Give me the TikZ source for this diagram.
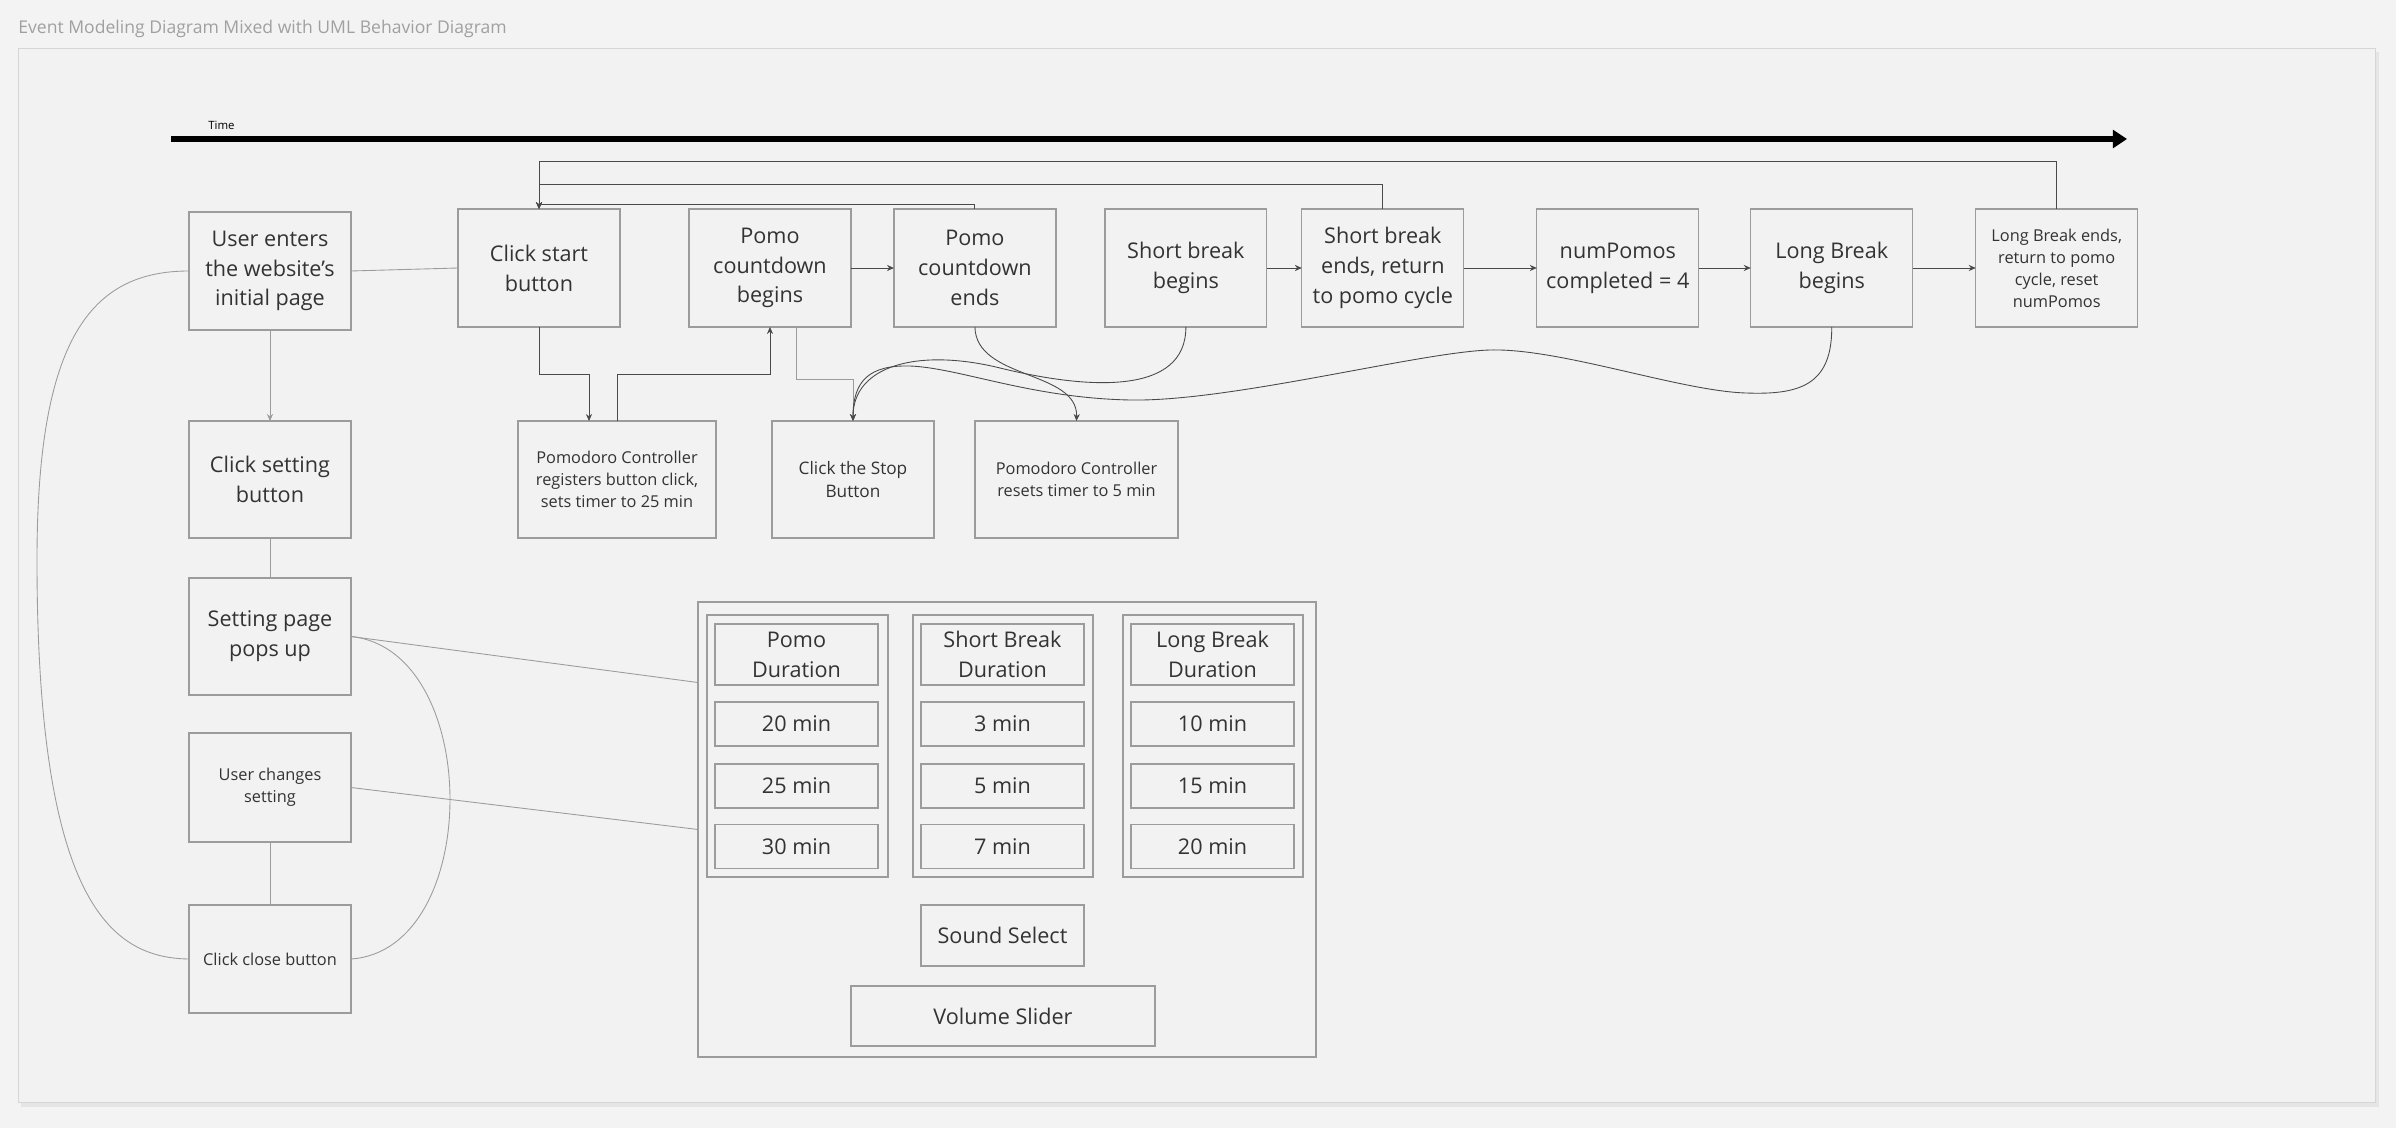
\documentclass[tikz,border=0pt]{standalone}
\usepackage{fontspec}
\setmainfont{Open Sans}
\usetikzlibrary{positioning, arrows.meta}

\definecolor{pagegray}{HTML}{F3F3F3}
\definecolor{framegray}{HTML}{F2F2F2}
\definecolor{boxgray}{HTML}{9C9C9C}
\definecolor{txtgray}{HTML}{333333}
\definecolor{linegray}{HTML}{4A4A4A}
\definecolor{titlegray}{HTML}{A0A0A0}

\tikzset{
  evt/.style={draw=boxgray, line width=0.7pt, text=txtgray, align=center,
    inner sep=1pt, outer sep=0pt, minimum width=3.24cm, minimum height=2.36cm,
    font=\fontsize{12.3}{17}\selectfont},
  smalltxt/.style={font=\fontsize{9.3}{12.5}\selectfont},
  opt/.style={evt, minimum width=3.26cm, minimum height=0.88cm},
  link/.style={draw=linegray, line width=0.5pt},
}

\begin{document}
\begin{tikzpicture}[x=0.02cm, y=-0.02cm, >={Stealth[length=4pt,width=3.5pt]}]
\useasboundingbox (0,0) rectangle (2396,1128);
\fill[pagegray] (0,0) rectangle (2396,1128);
\fill[black!10] (21,52) rectangle (2379,1107);
\filldraw[fill=framegray, draw=black!16] (18,48) rectangle (2375,1102);
\node[anchor=west, inner sep=0pt, text=titlegray,
    font=\fontsize{10}{12}\selectfont] (title) at (18,29)
    {Event Modeling Diagram Mixed with UML Behavior Diagram};

% time line
\coordinate (t0) at (171,139);
\coordinate (t1) at (2127,139);
\draw[line width=3.4pt, -{Triangle[length=8pt,width=10pt]}] (t0) -- (t1);
\node[anchor=west, inner sep=0pt, font=\fontsize{6.5}{8}\selectfont]
    (timeLbl) at (208,125) {Time};

% top row
\node[evt] (user) at (270,271) {User enters\\the website's\\initial page};
\node[evt] (start) at (539,268) {Click start\\button};
\node[evt, right=1.38cm of start] (begins) {Pomo\\countdown\\begins};
\node[evt, right=0.86cm of begins] (cdEnd) {Pomo\\countdown\\ends};
\node[evt, right=0.98cm of cdEnd] (shortB) {Short break\\begins};
\node[evt, right=0.70cm of shortB] (shortE)
    {Short break\\ends, return\\to pomo cycle};
\node[evt, right=1.46cm of shortE] (numP) {numPomos\\completed = 4};
\node[evt, right=1.04cm of numP] (longB) {Long Break\\begins};
\node[evt, smalltxt, right=1.26cm of longB] (longE)
    {Long Break ends,\\return to pomo\\cycle, reset\\numPomos};

% second row
\node[evt, minimum height=2.34cm] (csb) at (270,479.5) {Click setting\\button};
\node[evt, smalltxt, minimum width=3.96cm, minimum height=2.34cm] (reg)
    at (617,479.5)
    {Pomodoro Controller\\registers button click,\\sets timer to 25 min};
\node[evt, minimum height=2.34cm, font=\fontsize{9.8}{13.6}\selectfont]
    (stop) at (853,479.5) {Click the Stop\\Button};
\node[evt, smalltxt, minimum width=4.06cm, minimum height=2.34cm] (resets)
    at (1076.5,479.5) {Pomodoro Controller\\resets timer to 5 min};

% left column
\node[evt, minimum height=2.34cm] (setp) at (270,636.5) {Setting page\\pops up};
\node[evt, smalltxt, minimum height=2.18cm] (uchg) at (270,787.5)
    {User changes\\setting};
\node[evt, smalltxt, minimum height=2.16cm] (close) at (270,959)
    {Click close button};

% settings page
\node[evt, minimum width=12.36cm, minimum height=9.1cm] (panel)
    at (1007,829.5) {};
\node[evt, minimum width=3.62cm, minimum height=5.24cm] (colPomo)
    at (797.5,746) {};
\node[evt, minimum width=3.60cm, minimum height=5.24cm] (colShort)
    at (1003,746) {};
\node[evt, minimum width=3.60cm, minimum height=5.24cm] (colLong)
    at (1213,746) {};
\node[opt, minimum height=1.22cm] (hPomo) at (796.5,654.5) {Pomo\\Duration};
\node[opt] (p20) at (796.5,724) {20 min};
\node[opt] (p25) at (796.5,786) {25 min};
\node[opt] (p30) at (796.5,846.5) {30 min};
\node[opt, minimum height=1.22cm] (hShort) at (1002.5,654.5)
    {Short Break\\Duration};
\node[opt] (s3) at (1002.5,724) {3 min};
\node[opt] (s5) at (1002.5,786) {5 min};
\node[opt] (s7) at (1002.5,846.5) {7 min};
\node[opt, minimum height=1.22cm] (hLong) at (1212.5,654.5)
    {Long Break\\Duration};
\node[opt] (l10) at (1212.5,724) {10 min};
\node[opt] (l15) at (1212.5,786) {15 min};
\node[opt] (l20) at (1212.5,846.5) {20 min};
\node[opt, minimum height=1.22cm] (sound) at (1002.5,935.5) {Sound Select};
\node[opt, minimum width=6.08cm, minimum height=1.2cm] (volume)
    at (1003,1016) {Volume Slider};

% top row links
\draw[link, ->] (begins.east) -- (cdEnd.west);
\draw[link, ->] (shortB.east) -- (shortE.west);
\draw[link, ->] (shortE.east) -- (numP.west);
\draw[link, ->] (numP.east) -- (longB.west);
\draw[link, ->] (longB.east) -- (longE.west);
\draw[link, ->] (cdEnd.north) -- ++(0,-5) -| (start.north);
\draw[link, ->] (shortE.north) -- ++(0,-25) -| (start.north);
\draw[link, ->] (longE.north) -- ++(0,-48) -| (start.north);
\draw[link, draw=boxgray] (user.east) -- (start.west);

% controller links
\draw[link, ->] (start.south) -- ++(0,47) -| ([xshift=-0.56cm]reg.north);
\draw[link, ->] (reg.north) -- ++(0,-47) -| (begins.south);
\draw[link, draw=boxgray] ([xshift=0.52cm]begins.south) -- ++(0,52) -| (stop.north);
\draw[link, ->] (cdEnd.south) .. controls (976,380) and (1078,370) .. (resets.north);
\draw[link, ->] (shortB.south) .. controls (1186,395) and (1090,390) .. (1000,368)
    .. controls (919,348) and (853,365) .. (stop.north);
\draw[link, ->] (longB.south) .. controls (1832,385) and (1800,395) .. (1746,393)
    .. controls (1680,391) and (1560,348) .. (1490,350)
    .. controls (1420,352) and (1230,402) .. (1130,400)
    .. controls (1030,398) and (960,368) .. (910,366)
    .. controls (870,365) and (853,380) .. (stop.north);

% settings links
\draw[link, draw=boxgray, ->] (user.south) -- (csb.north);
\draw[link, draw=boxgray] (csb.south) -- (setp.north);
\draw[link, draw=boxgray] (uchg.south) -- (close.north);
\draw[link, draw=boxgray] (setp.east) -- ([yshift=2.94cm]panel.west);
\draw[link, draw=boxgray] (uchg.east) -- (panel.west);
\draw[link, draw=boxgray] (user.west) .. controls (90,271) and (37,340) .. (37,560)
    .. controls (37,900) and (110,958) .. (close.west);
\draw[link, draw=boxgray] (setp.east) .. controls (483,650) and (483,950) .. (close.east);
\end{tikzpicture}
\end{document}
